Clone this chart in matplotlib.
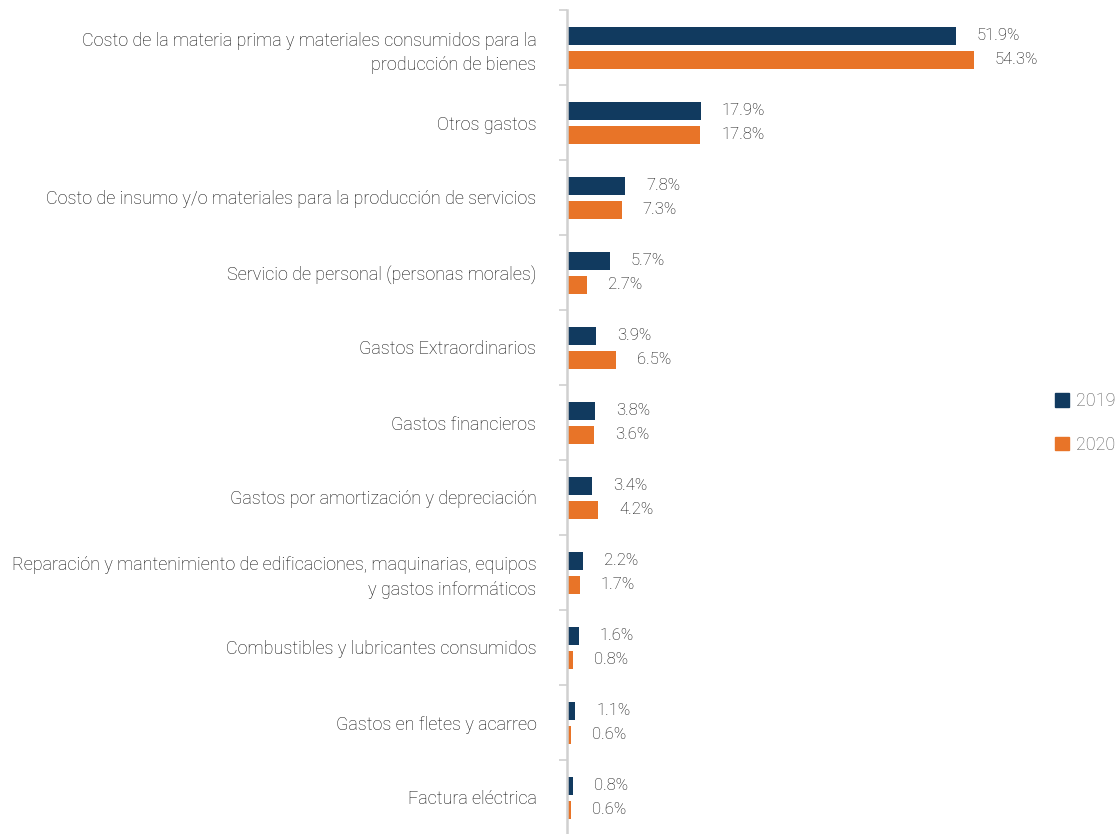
import matplotlib.pyplot as plt
from matplotlib.patches import Patch
import numpy as np

categories = [
    "Costo de la materia prima y materiales consumidos para la\nproducción de bienes",
    "Otros gastos",
    "Costo de insumo y/o materiales para la producción de servicios",
    "Servicio de personal (personas morales)",
    "Gastos Extraordinarios",
    "Gastos financieros",
    "Gastos por amortización y depreciación",
    "Reparación y mantenimiento de edificaciones, maquinarias, equipos\ny gastos informáticos",
    "Combustibles y lubricantes consumidos",
    "Gastos en fletes y acarreo",
    "Factura eléctrica",
]
values_2019 = [51.9, 17.9, 7.8, 5.7, 3.9, 3.8, 3.4, 2.2, 1.6, 1.1, 0.8]
values_2020 = [54.3, 17.8, 7.3, 2.7, 6.5, 3.6, 4.2, 1.7, 0.8, 0.6, 0.6]
series_names = ["2019", "2020"]

color_2019 = "#113A5F"
color_2020 = "#E87428"
text_color = "#0D0D0D"

plt.rcParams['font.family'] = ['Roboto', 'DejaVu Sans']
plt.rcParams['font.weight'] = 'light'

fig = plt.figure(figsize=(11.2, 8.34), dpi=100)
ax = fig.add_axes([567 / 1120, -1 / 834, 473 / 1120, 825 / 834])

y = np.arange(len(categories))
bar_h = 0.24
off = 0.16

bars1 = ax.barh(y - off, values_2019, height=bar_h, color=color_2019)
bars2 = ax.barh(y + off, values_2020, height=bar_h, color=color_2020)

# value labels to the right of each bar
for bars, vals in [(bars1, values_2019), (bars2, values_2020)]:
    for b, v in zip(bars, vals):
        ax.annotate(f"{v:.1f}%", (b.get_width(), b.get_y() + b.get_height() / 2),
                    xytext=(15, 0), textcoords="offset points",
                    ha="left", va="center", fontsize=12, color=text_color)

ax.set_xlim(0, 473 / 7.49)
ax.set_ylim(len(categories) - 0.5, -0.5)

ax.set_yticks(y)
ax.set_yticklabels(categories, fontsize=13, color=text_color)
ax.set_yticks(np.arange(len(categories) + 1) - 0.5, minor=True)
ax.tick_params(axis="y", which="major", length=0, pad=22)
ax.tick_params(axis="y", which="minor", length=6, width=1.2, color="#D0D0D0")
for lbl in ax.get_yticklabels():
    lbl.set_multialignment("right")
    lbl.set_linespacing(1.45)

ax.set_xticks([])
for s in ["top", "right", "bottom"]:
    ax.spines[s].set_visible(False)
ax.spines["left"].set_color("#D0D0D0")
ax.spines["left"].set_linewidth(1.8)

handles = [Patch(color=color_2019), Patch(color=color_2020)]
leg = fig.legend(handles, series_names, loc="center left", bbox_to_anchor=(1039 / 1120, 411 / 834),
                 frameon=False, fontsize=13, handlelength=0.75, handleheight=0.75,
                 handletextpad=0.4, labelspacing=1.4)
for t in leg.get_texts():
    t.set_color("#595959")

fig.savefig("out.png", dpi=100)
